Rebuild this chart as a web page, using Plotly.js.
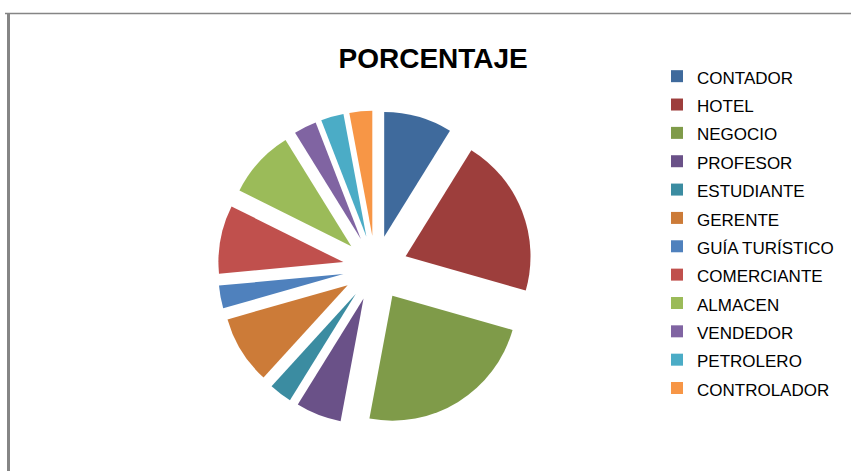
<!DOCTYPE html>
<html>
<head>
<meta charset="utf-8">
<script src="https://cdn.plot.ly/plotly-3.0.1.min.js"></script>
<style>html,body{margin:0;padding:0;background:#fff;}#chart{width:851px;height:471px;}</style>
</head>
<body>
<div id="chart"></div>
<script>
var categories = ["CONTADOR","HOTEL","NEGOCIO","PROFESOR","ESTUDIANTE","GERENTE","GUÍA TURÍSTICO","COMERCIANTE","ALMACEN","VENDEDOR","PETROLERO","CONTROLADOR"];
var values = [3, 7, 8, 2, 1, 3, 1, 3, 3, 1, 1, 1];
var colors = ["#3F6A9C","#9D3E3C","#7F9B49","#6A5188","#3B8CA1","#CC7B38","#4F81BD","#C0504D","#9BBB59","#8064A2","#4BACC6","#F79646"];

var legendLabels = categories.map(function(c){
  return '<span style="font-size:17px">' + c + '</span>';
});

var trace = {
  type: 'pie',
  labels: legendLabels,
  values: values,
  sort: false,
  direction: 'clockwise',
  rotation: 0,
  pull: 0.26,
  textinfo: 'none',
  hoverinfo: 'label+percent',
  marker: {colors: colors, line: {width: 0}},
  domain: {x: [0.256, 0.626], y: [0.0966, 0.765]}
};

var layout = {
  width: 851, height: 471,
  margin: {l: 0, r: 0, t: 0, b: 0},
  paper_bgcolor: '#ffffff',
  font: {family: 'Liberation Sans, Arial, sans-serif', color: '#000'},
  title: {
    text: '<b>PORCENTAJE</b>',
    font: {family: 'Liberation Sans, Arial, sans-serif', size: 28, color: '#000'},
    x: 0.509, xanchor: 'center',
    y: 1 - 58/471, yanchor: 'middle'
  },
  showlegend: true,
  legend: {
    x: 657/851, xanchor: 'left',
    y: 1 - 57/471, yanchor: 'top',
    font: {family: 'Liberation Sans, Arial, sans-serif', size: 19.5, color: '#000'},
    bgcolor: 'rgba(0,0,0,0)',
    traceorder: 'normal'
  },
  shapes: [
    {type: 'line', xref: 'paper', yref: 'paper', x0: 5/851, x1: 1, y0: 1 - 13.5/471, y1: 1 - 13.5/471, line: {color: '#858585', width: 1.5}},
    {type: 'line', xref: 'paper', yref: 'paper', x0: 8.5/851, x1: 8.5/851, y0: 0, y1: 1 - 13/471, line: {color: '#858585', width: 3}}
  ]
};

Plotly.newPlot('chart', [trace], layout, {displayModeBar: false, staticPlot: true});
</script>
</body>
</html>
